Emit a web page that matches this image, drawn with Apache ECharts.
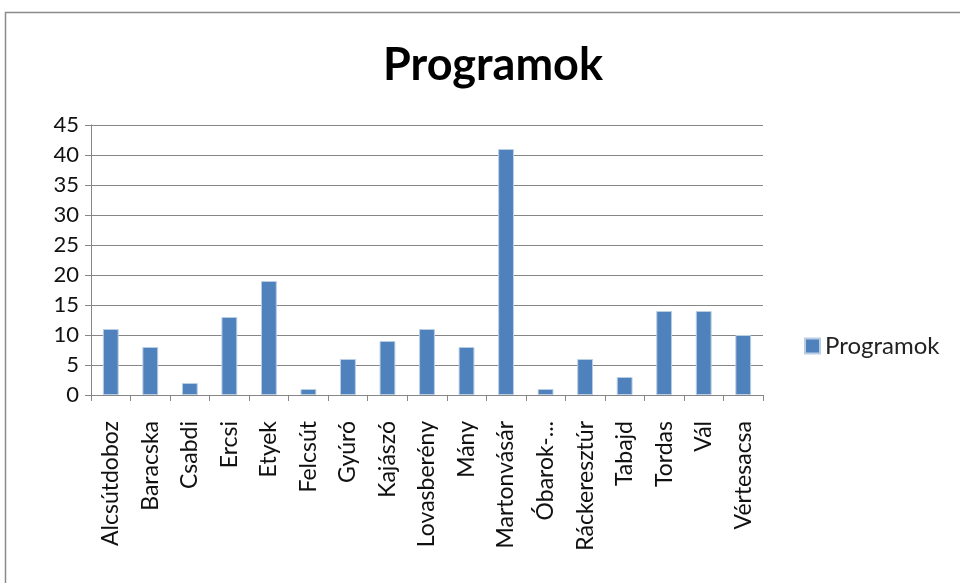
<!DOCTYPE html>
<html>
<head>
<meta charset="utf-8">
<script src="https://cdn.jsdelivr.net/npm/echarts@6/dist/echarts.min.js"></script>
<style>
  html, body { margin: 0; padding: 0; background: #fff; }
  #chart { width: 960px; height: 583px; }
</style>
</head>
<body>
<div id="chart"></div>
<script>
// adatok
const telepulesek = ['Alcsútdoboz', 'Baracska', 'Csabdi', 'Ercsi', 'Etyek', 'Felcsút', 'Gyúró', 'Kajászó',
  'Lovasberény', 'Mány', 'Martonvásár', 'Óbarok-Újbarok', 'Ráckeresztúr', 'Tabajd', 'Tordas', 'Vál', 'Vértesacsa'];
const programok = [11, 8, 2, 13, 19, 1, 6, 9, 11, 8, 41, 1, 6, 3, 14, 14, 10];
const seriesName = 'Programok';

const font = 'Lato, "Open Sans", sans-serif';

let myChart = echarts.init(document.getElementById('chart'));
let option = {
  animation: false,
  backgroundColor: '#fff',
  graphic: [{ // a diagram kerete
    type: 'rect',
    shape: { x: 5.5, y: 12.5, width: 1000, height: 1000 },
    style: { fill: 'none', stroke: '#8a8a8a', lineWidth: 1.5 },
    silent: true
  }],
  title: {
    text: 'Programok',
    left: 488,
    textAlign: 'center',
    top: 38,
    textStyle: { fontFamily: font, fontSize: 45, fontWeight: 'bold', color: '#000' }
  },
  legend: {
    data: [seriesName],
    left: 799,
    top: 329,
    itemWidth: 15,
    itemHeight: 15,
    itemGap: 8,
    icon: 'rect',
    textStyle: { fontFamily: font, fontSize: 24, color: '#222' }
  },
  grid: { left: 91, right: 197, top: 125, bottom: 188 },
  xAxis: {
    type: 'category',
    data: telepulesek,
    axisLine: { lineStyle: { color: '#868686', width: 1 } },
    axisTick: { show: true, length: 6, lineStyle: { color: '#868686' } },
    axisLabel: {
      interval: 0,
      rotate: 90,
      margin: 26,
      color: '#111',
      fontFamily: font,
      fontSize: 23,
      formatter: v => v.length > 12 ? v.slice(0, 6) + '-...' : v
    }
  },
  yAxis: {
    type: 'value',
    min: 0,
    max: 45,
    interval: 5,
    axisLine: { show: true, lineStyle: { color: '#868686' } },
    axisTick: { show: true, length: 6, lineStyle: { color: '#868686' } },
    splitLine: { lineStyle: { color: '#868686', width: 1 } },
    axisLabel: { color: '#111', fontFamily: font, fontSize: 22, margin: 12 }
  },
  series: [{
    name: seriesName,
    type: 'bar',
    data: programok,
    barWidth: '40%',
    itemStyle: { color: '#4F81BD', borderColor: '#B9CDE5', borderWidth: 1 }
  }]
};
option && myChart.setOption(option);
</script>
</body>
</html>
